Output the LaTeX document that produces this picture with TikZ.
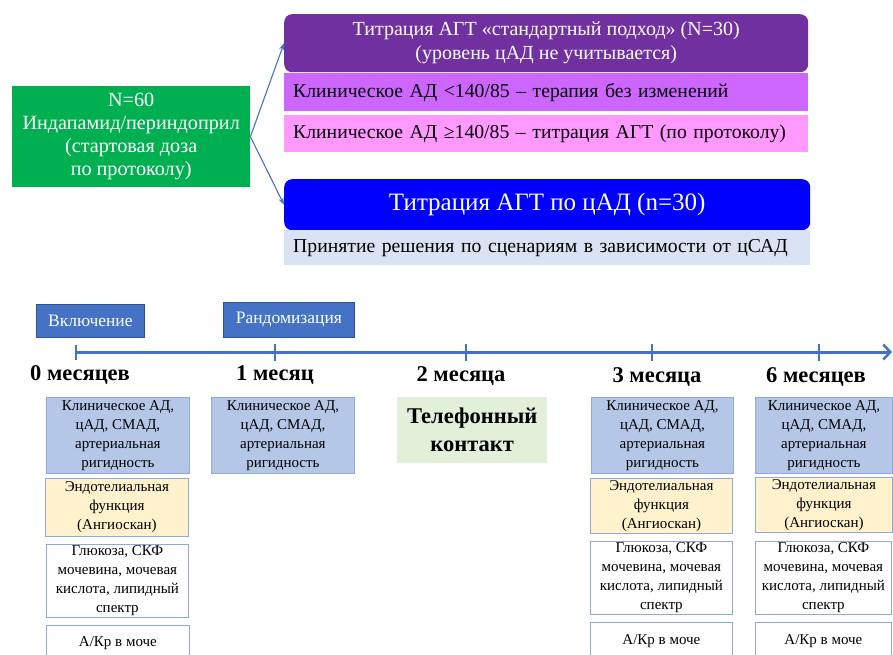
\documentclass[tikz,border=0pt]{standalone}
\usepackage{fontspec}
\setmainfont{Liberation Serif}
\usetikzlibrary{arrows.meta}
\definecolor{cgreen}{HTML}{00B050}
\definecolor{cpurple}{HTML}{7030A0}
\definecolor{clilac}{HTML}{CC66FF}
\definecolor{cpink}{HTML}{FF99FF}
\definecolor{cblue}{HTML}{0000FF}
\definecolor{clightblue}{HTML}{DAE3F3}
\definecolor{caxis}{HTML}{4472C4}
\definecolor{caxisdark}{HTML}{2F528F}
\definecolor{cbox}{HTML}{B4C7E7}
\definecolor{cyellow}{HTML}{FFF2CC}
\definecolor{clgreen}{HTML}{E2F0D9}
\definecolor{cborder}{HTML}{8EA9DB}
\tikzset{
  base/.style={anchor=north west, inner sep=0pt, align=center},
  wh/.style 2 args={minimum width=#1pt, minimum height=#2pt},
  leftbox/.style={anchor=north west, inner xsep=9pt, inner ysep=0pt, align=left, text width=#1pt},
  colbox/.style={base, draw=cborder, line width=0.8pt, font=\fontsize{15}{19}\selectfont},
  tagbox/.style={base, fill=caxis, draw=caxisdark, line width=0.8pt, text=white, font=\fontsize{17.5}{20}\selectfont},
  monthlbl/.style={anchor=base, inner sep=0pt, font=\fontsize{22.5}{26}\bfseries\selectfont},
  link/.style={draw=caxis, line width=1.1pt, -{Stealth[length=7pt,width=5pt]}},
  axisline/.style={draw=caxis, line width=3pt, -{Straight Barb[length=7pt,width=15pt,line width=2.5pt]}},
  tickmark/.style={draw=caxis, line width=2.5pt},
}
\begin{document}
\begin{tikzpicture}[x=1pt,y=-1pt]
\useasboundingbox (0,0) rectangle (893,654);

% top part
\node[base, fill=cgreen, text=white, wh={238}{101}, font=\fontsize{20.2}{23}\selectfont] (start) at (12,86)
  {N=60\\ Индапамид/периндоприл\\ (стартовая доза\\ по протоколу)};

\node[base, fill=cpurple, text=white, rounded corners=8pt, wh={524}{58}, font=\fontsize{20}{24}\selectfont] (std) at (284,14)
  {Титрация АГТ «стандартный подход» (N=30)\\ (уровень цАД не учитывается)};
\node[leftbox=506, fill=clilac, minimum height=38pt, font=\fontsize{19.7}{22}\selectfont] (low) at (284,73)
  {Клиническое АД <140/85 – терапия без изменений};
\node[leftbox=506, fill=cpink, minimum height=37pt, font=\fontsize{19.7}{22}\selectfont] (high) at (284,115)
  {Клиническое АД ≥140/85 – титрация АГТ (по протоколу)};

\node[base, fill=cblue, text=white, rounded corners=8pt, wh={526}{51}, font=\fontsize{25}{28}\selectfont] (cad) at (284,179)
  {Титрация АГТ по цАД (n=30)};
\node[leftbox=508, fill=clightblue, minimum height=35pt, font=\fontsize{19.7}{22}\selectfont] (scen) at (284,230)
  {Принятие решения по сценариям в зависимости от цСАД};

\draw[link] (start.east) -- (std.west);
\draw[link] (start.east) -- (cad.west);

% timeline
\node[tagbox, wh={108}{33}] (incl) at (36,304) {Включение};
\node[tagbox, wh={131}{35}] (rand) at (223,302) {Рандомизация};

\coordinate (t0) at (76,352);
\coordinate (t1) at (275,352);
\coordinate (t2) at (466,352);
\coordinate (t3) at (652,352);
\coordinate (t6) at (819,352);
\coordinate (tend) at (892,352);
\draw[axisline] (t0) -- (tend);
\draw[tickmark] ([yshift=-8pt]t0) -- ([yshift=7pt]t0);
\foreach \t in {t1,t2,t3,t6} \draw[tickmark] ([yshift=-9pt]\t) -- ([yshift=8pt]\t);

\node[monthlbl] (m0) at (80,380) {0 месяцев};
\node[monthlbl] (m1) at (275,380) {1 месяц};
\node[monthlbl] (m2) at (461,381) {2 месяца};
\node[monthlbl] (m3) at (657,382) {3 месяца};
\node[monthlbl] (m6) at (816,382) {6 месяцев};

% column 0
\node[colbox, fill=cbox, wh={143}{76}] (a0) at (46,397) {Клиническое АД,\\ цАД, СМАД,\\ артериальная\\ ригидность};
\node[colbox, fill=cyellow, wh={143}{58}] (b0) at (45,478) {Эндотелиальная\\ функция\\ (Ангиоскан)};
\node[colbox, fill=white, wh={142}{73}] (c0) at (46,544) {Глюкоза, СКФ\\ мочевина, мочевая\\ кислота, липидный\\ спектр};
\node[colbox, fill=white, wh={143}{36}] (d0) at (46,625) {А/Кр в моче};

% column 1
\node[colbox, fill=cbox, wh={143}{76}] (a1) at (211,397) {Клиническое АД,\\ цАД, СМАД,\\ артериальная\\ ригидность};

% phone
\node[base, fill=clgreen, wh={150}{66}, font=\fontsize{22.5}{28}\bfseries\selectfont] (phone) at (397,397) {Телефонный\\ контакт};

% column 3
\node[colbox, fill=cbox, wh={142}{76}] (a3) at (591,397) {Клиническое АД,\\ цАД, СМАД,\\ артериальная\\ ригидность};
\node[colbox, fill=cyellow, wh={142}{55}] (b3) at (590,478) {Эндотелиальная\\ функция\\ (Ангиоскан)};
\node[colbox, fill=white, wh={142}{73}] (c3) at (590,541) {Глюкоза, СКФ\\ мочевина, мочевая\\ кислота, липидный\\ спектр};
\node[colbox, fill=white, wh={142}{38}] (d3) at (590,622) {А/Кр в моче};

% column 6
\node[colbox, fill=cbox, wh={137}{76}] (a6) at (755,397) {Клиническое АД,\\ цАД, СМАД,\\ артериальная\\ ригидность};
\node[colbox, fill=cyellow, wh={137}{55}] (b6) at (755,477) {Эндотелиальная\\ функция\\ (Ангиоскан)};
\node[colbox, fill=white, wh={136}{73}] (c6) at (755,541) {Глюкоза, СКФ\\ мочевина, мочевая\\ кислота, липидный\\ спектр};
\node[colbox, fill=white, wh={136}{38}] (d6) at (755,622) {А/Кр в моче};
\end{tikzpicture}
\end{document}
